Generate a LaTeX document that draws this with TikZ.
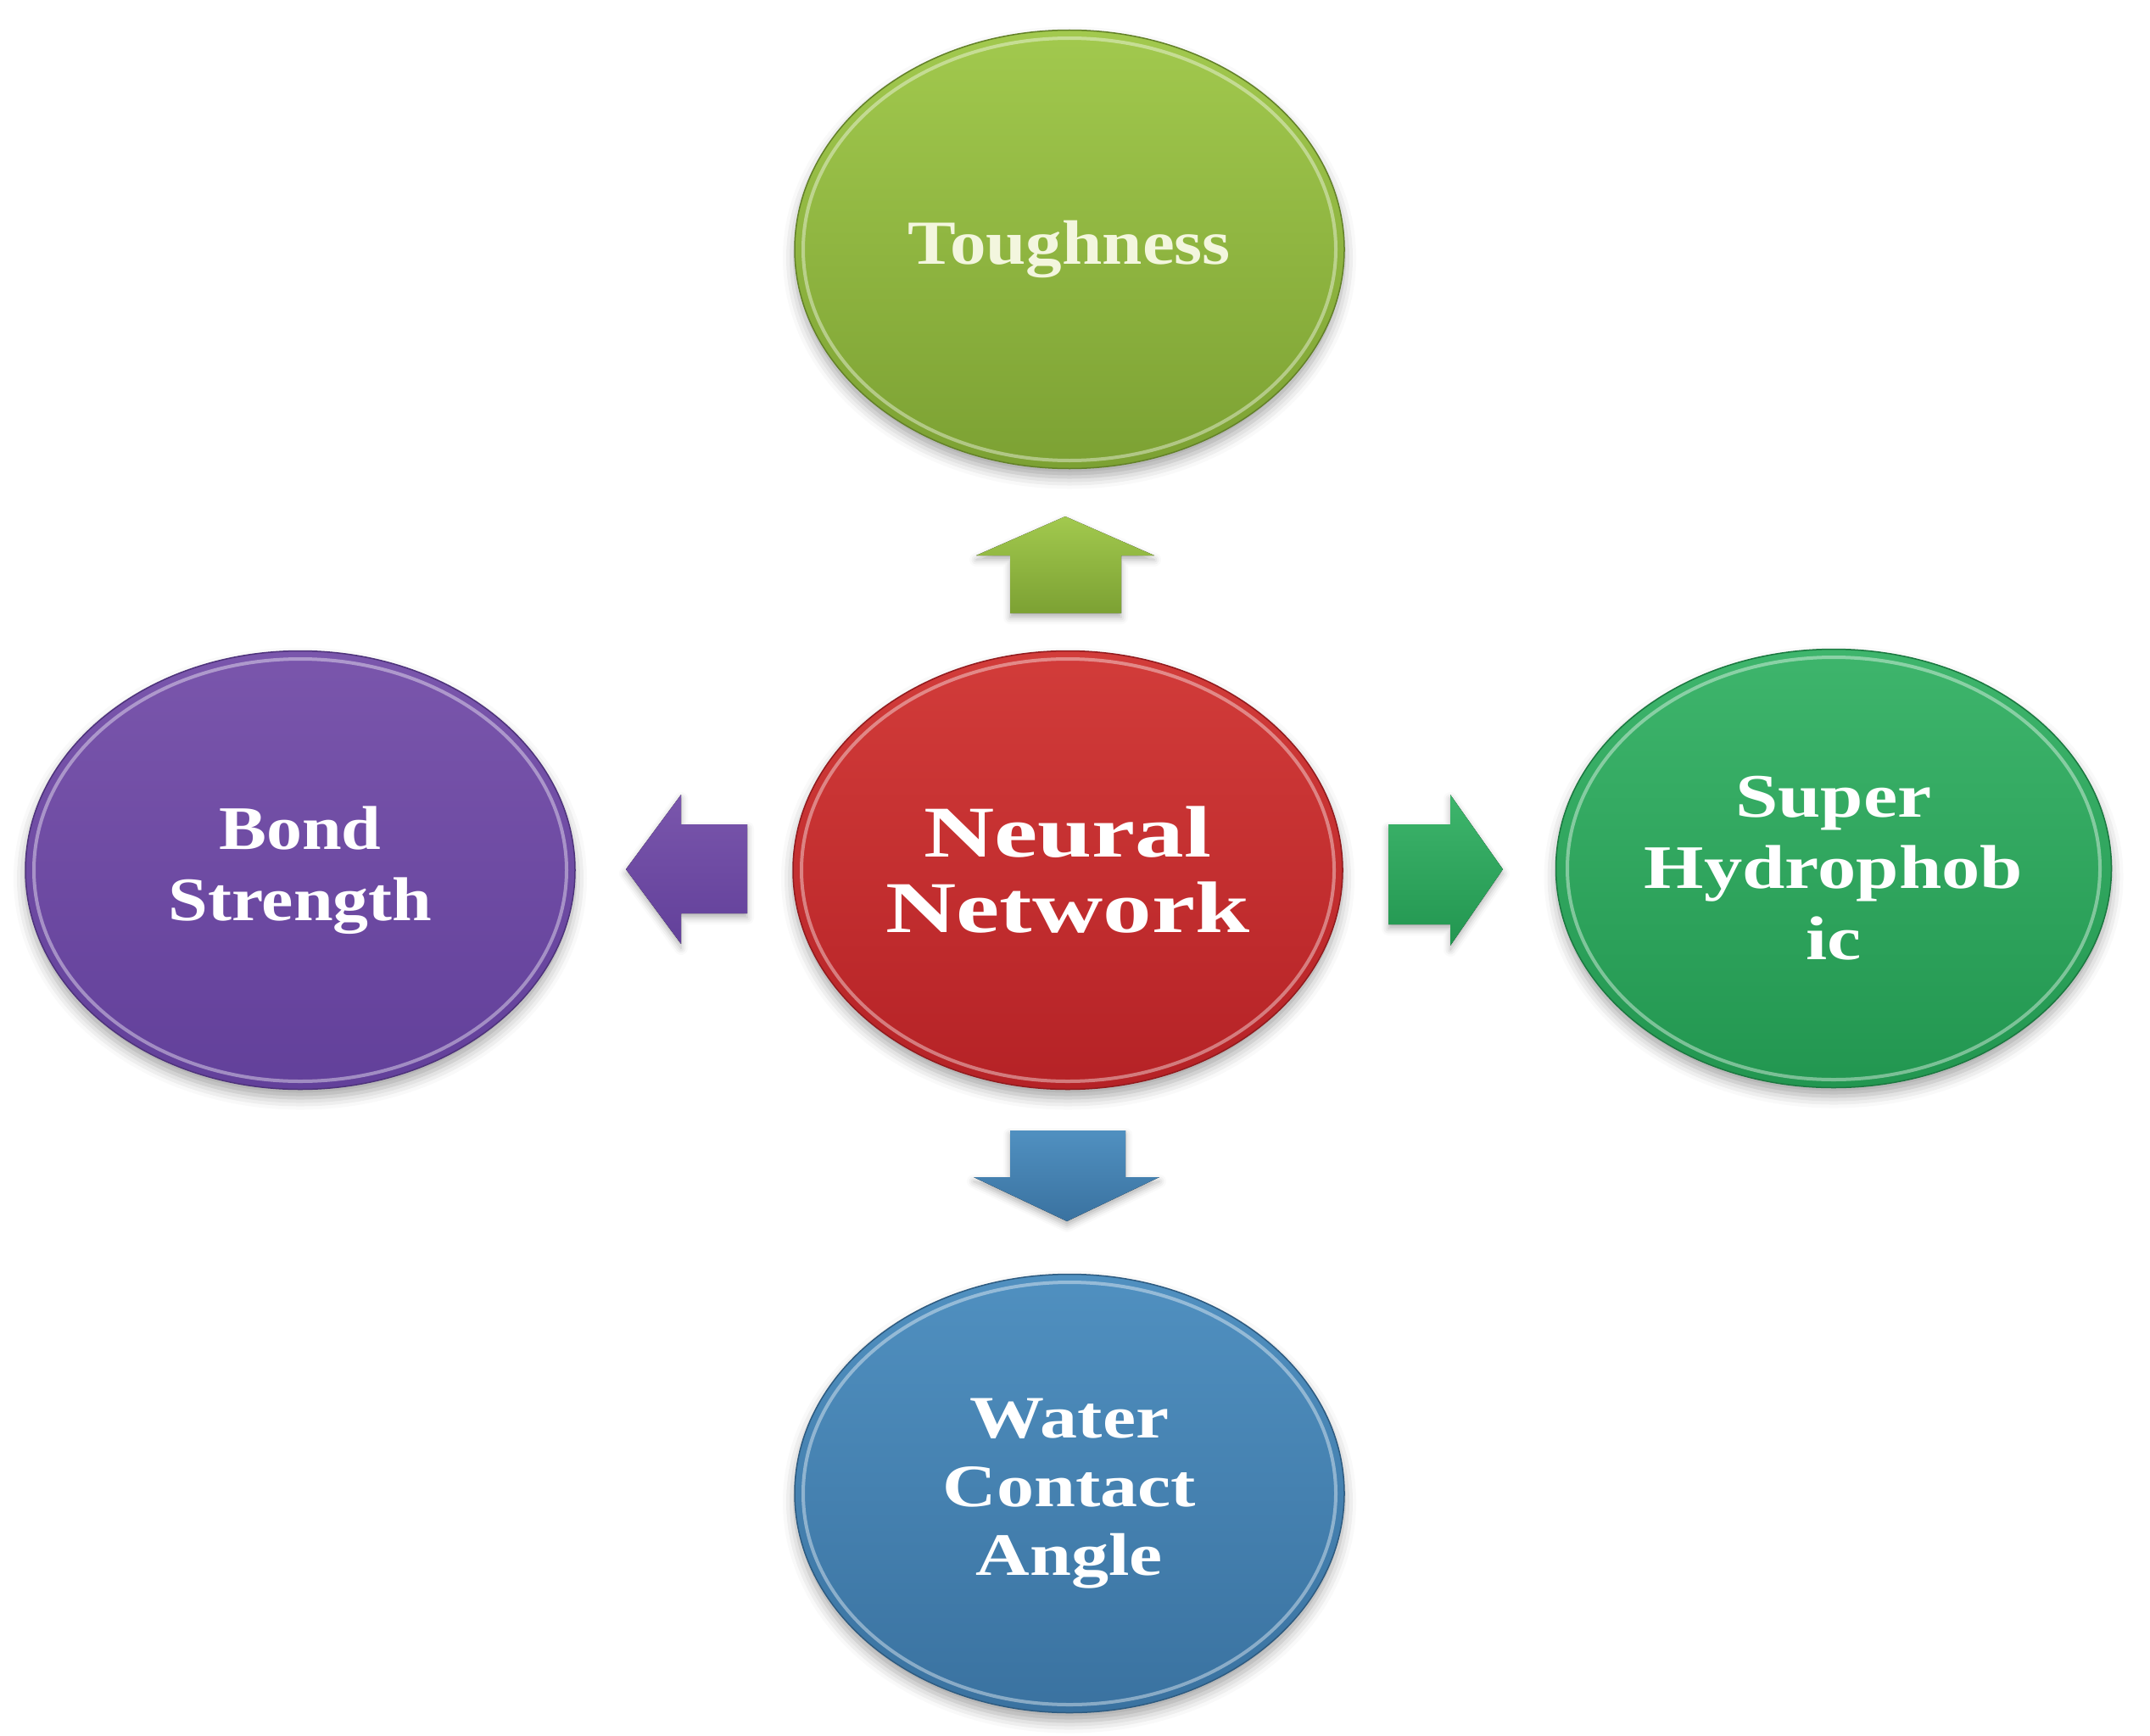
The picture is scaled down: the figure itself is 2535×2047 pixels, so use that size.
\documentclass[tikz,border=0pt]{standalone}
\usepackage{fontspec}
\setmainfont{Liberation Serif}
\newfontfamily\widefont[FakeStretch=1.15]{Liberation Serif}
\newfontfamily\widerfont[FakeStretch=1.34]{Liberation Serif}
\newfontfamily\midfont[FakeStretch=1.24]{Liberation Serif}
\usetikzlibrary{shapes.geometric,shadows.blur}
\definecolor{tgTop}{HTML}{A2C94E}
\definecolor{tgBot}{HTML}{7CA133}
\definecolor{nnTop}{HTML}{D23C3A}
\definecolor{nnBot}{HTML}{B52226}
\definecolor{bsTop}{HTML}{7A56AC}
\definecolor{bsBot}{HTML}{62409A}
\definecolor{shTop}{HTML}{3EB56C}
\definecolor{shBot}{HTML}{229650}
\definecolor{wcTop}{HTML}{5090C0}
\definecolor{wcBot}{HTML}{3A72A0}
\definecolor{tgText}{HTML}{F3F6DE}
\begin{document}
\begin{tikzpicture}[x=1pt,y=-1pt,
  bubble/.style 2 args={ellipse, minimum width=648pt, minimum height=517pt, inner sep=0pt,
    top color=#1, bottom color=#2, draw=#2!80!black, line width=1.5pt,
    blur shadow={shadow xshift=0pt, shadow yshift=-10pt, shadow blur radius=14pt, shadow opacity=35},
    text=white, align=center},
  glossline/.style={white, opacity=.4, line width=4pt},
  blockarrow/.style 2 args={top color=#1, bottom color=#2, draw=none,
    blur shadow={shadow xshift=0pt, shadow yshift=-5pt, shadow blur radius=8pt, shadow opacity=30}}
]
\useasboundingbox (0,0) rectangle (2535,2047);

% ellipses
\node[bubble={tgTop}{tgBot}, text=tgText, font=\widefont\bfseries\fontsize{74}{85}\selectfont] (tough) at (1261,294) {Toughness};
\node[bubble={nnTop}{nnBot}, font=\widerfont\bfseries\fontsize{86}{89}\selectfont] (nn) at (1259,1026) {Neural\\Network};
\node[bubble={bsTop}{bsBot}, font=\widefont\bfseries\fontsize{73}{84}\selectfont] (bond) at (354,1026) {Bond\\Strength};
\node[bubble={shTop}{shBot}, minimum width=655pt, font=\midfont\bfseries\fontsize{73}{84}\selectfont] (super) at (2162,1024) {Super\\Hydrophob\\ic};
\node[bubble={wcTop}{wcBot}, font=\midfont\bfseries\fontsize{71}{81}\selectfont] (water) at (1261,1761) {Water\\Contact\\Angle};

\foreach \n in {tough,nn,bond,super,water}{
  \draw[glossline] (\n.center) ellipse [x radius=314, y radius=249];
}

% block arrows
\fill[blockarrow={tgTop}{tgBot}] (1191,723) -- (1191,655) -- (1151,655) -- (1256,609) -- (1361,655) -- (1322,655) -- (1322,723) -- cycle;
\fill[blockarrow={bsTop}{bsBot}] (881,972) -- (803,972) -- (803,937) -- (738,1025) -- (803,1113) -- (803,1077) -- (881,1077) -- cycle;
\fill[blockarrow={shTop}{shBot}] (1637,972) -- (1710,972) -- (1710,937) -- (1772,1025) -- (1710,1115) -- (1710,1090) -- (1637,1090) -- cycle;
\fill[blockarrow={wcTop}{wcBot}] (1191,1333) -- (1327,1333) -- (1327,1388) -- (1367,1388) -- (1258,1440) -- (1148,1388) -- (1191,1388) -- cycle;
\end{tikzpicture}
\end{document}
